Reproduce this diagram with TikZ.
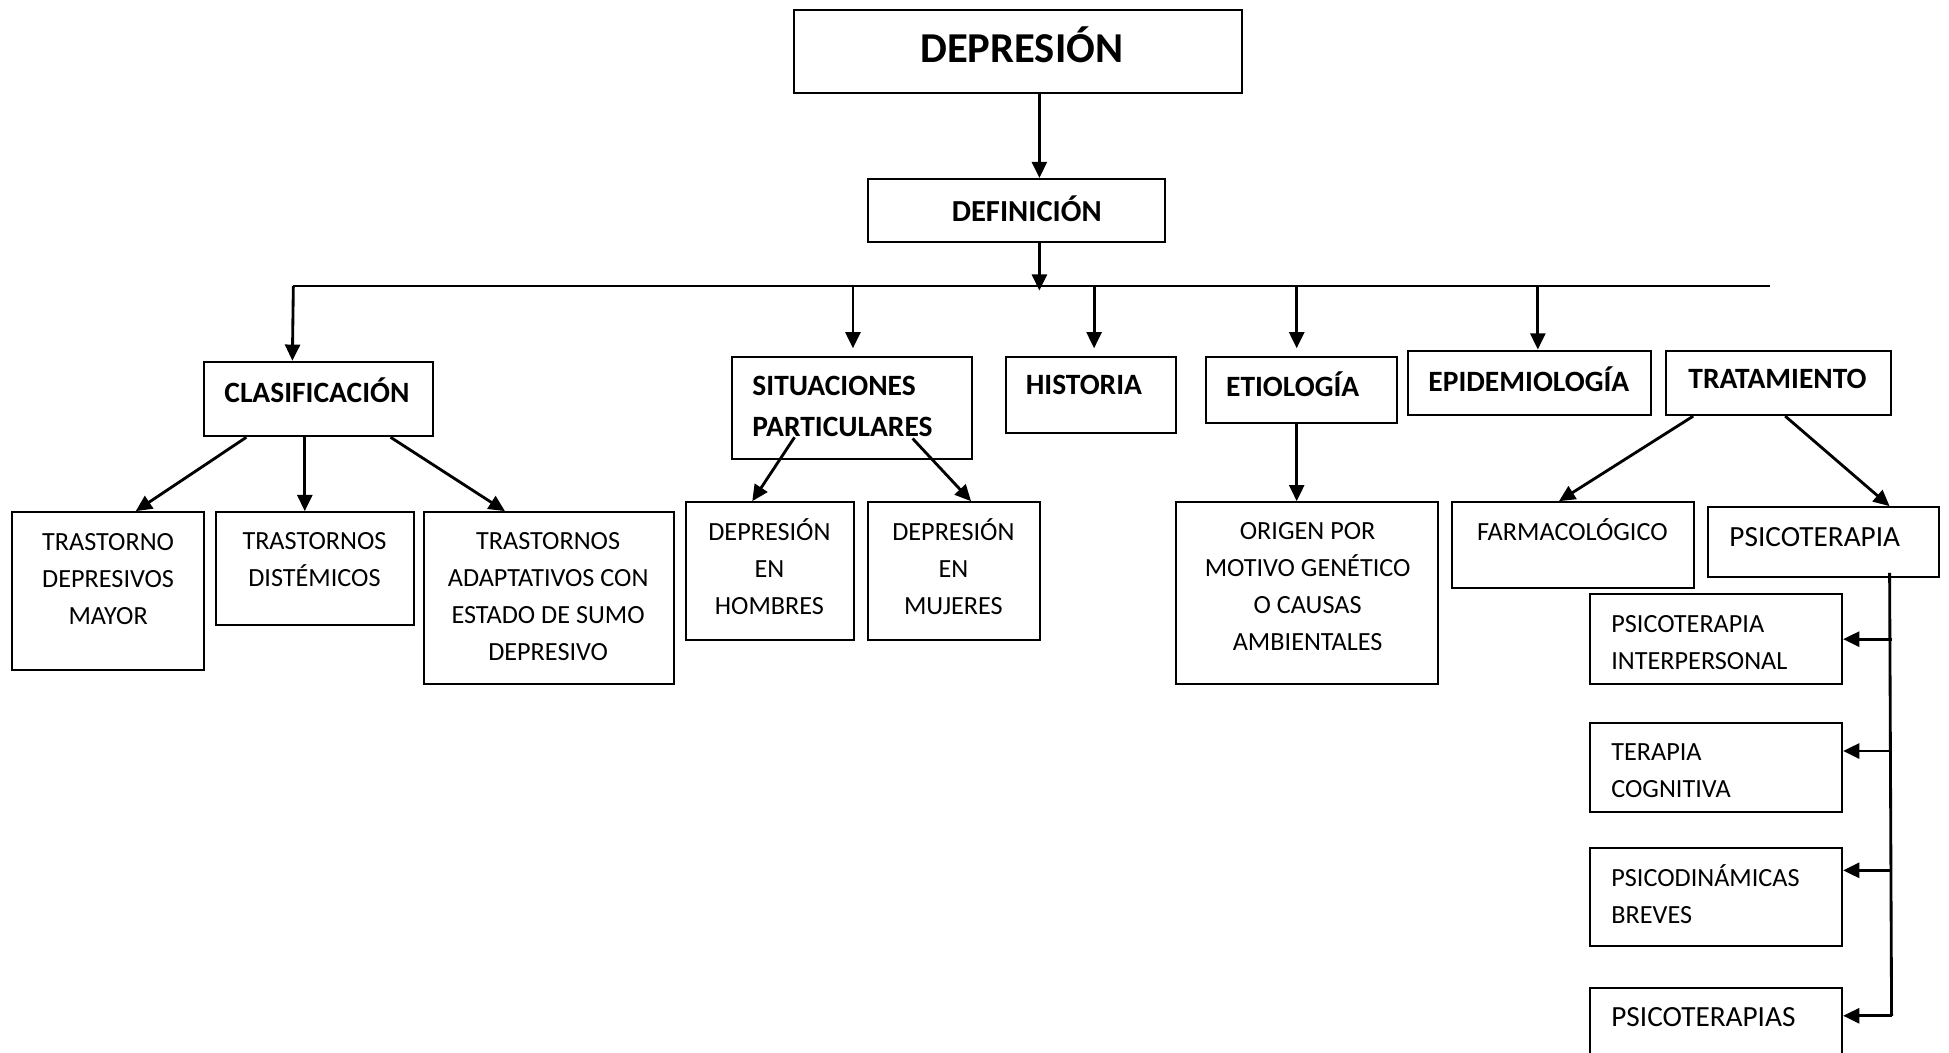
\documentclass[tikz,border=0pt]{standalone}
\usepackage{fontspec}
\setmainfont{Carlito}
\usepackage{tikz}
\usetikzlibrary{positioning, calc, fit, arrows.meta}

\tikzset{
	caja/.style={draw, line width=0.9pt, inner sep=0pt},
	flecha/.style={line width=1.3pt, -{Triangle[length=0.26cm, width=0.24cm]}},
	titulo/.style={font=\bfseries\fontsize{13.5}{19}\selectfont, inner sep=0pt, align=left},
	texto/.style={font=\fontsize{12}{17}\selectfont, inner sep=0pt, align=center},
}

\begin{document}
\begin{tikzpicture}[x=0.02cm, y=-0.02cm]
	\useasboundingbox (0,0) rectangle (1568,847);
	\clip (0,0) rectangle (1568,847);
	
	% cajas
	\node[caja, fit={(639,8) (999,75)}] (dep) {};
	\node[caja, fit={(698,144) (937,195)}] (def) {};
	\node[caja, fit={(164,291) (348,351)}] (clas) {};
	\node[caja, fit={(589,287) (782,369)}] (sit) {};
	\node[caja, fit={(809,287) (946,348)}] (hist) {};
	\node[caja, fit={(970,287) (1124,340)}] (etio) {};
	\node[caja, fit={(1133,282) (1328,334)}] (epid) {};
	\node[caja, fit={(1340,282) (1521,334)}] (trat) {};
	\node[caja, fit={(10,412) (164,539)}] (tdm) {};
	\node[caja, fit={(174,412) (333,503)}] (tdis) {};
	\node[caja, fit={(341,412) (542,550)}] (tadap) {};
	\node[caja, fit={(552,404) (687,515)}] (hom) {};
	\node[caja, fit={(698,404) (837,515)}] (muj) {};
	\node[caja, fit={(946,404) (1157,550)}] (orig) {};
	\node[caja, fit={(1168,404) (1363,473)}] (farm) {};
	\node[caja, fit={(1374,408) (1560,464)}] (psi) {};
	\node[caja, fit={(1279,478) (1482,550)}] (pint) {};
	\node[caja, fit={(1279,582) (1482,653)}] (tcog) {};
	\node[caja, fit={(1279,682) (1482,761)}] (pdin) {};
	\node[caja, fit={(1279,795) (1482,890)}] (pter) {};
	
	% textos
	\node[titulo, font=\bfseries\fontsize{19.5}{24}\selectfont] (tdep) at (822,36) {DEPRESIÓN};
	\node[titulo, font=\bfseries\fontsize{14}{18}\selectfont] (tdef) at (826,168) {DEFINICIÓN};
	\node[titulo] (tclas) at (255,314) {CLASIFICACIÓN};
	\node[titulo, anchor=west] (tsit) at (605,327) {SITUACIONES\\PARTICULARES};
	\node[titulo] (thist) at (872,310) {HISTORIA};
	\node[titulo] (tetio) at (1040,309) {ETIOLOGÍA};
	\node[titulo] (tepid) at (1230,305) {EPIDEMIOLOGÍA};
	\node[titulo] (ttrat) at (1430,305) {TRATAMIENTO};
	
	\node[texto] (ttdm) at (87,466) {TRASTORNO\\DEPRESIVOS\\MAYOR};
	\node[texto] (ttdis) at (253,450) {TRASTORNOS\\DISTÉMICOS};
	\node[texto] (ttadap) at (441,480) {TRASTORNOS\\ADAPTATIVOS CON\\ESTADO DE SUMO\\DEPRESIVO};
	\node[texto] (thom) at (619,456) {DEPRESIÓN\\EN\\HOMBRES};
	\node[texto] (tmuj) at (767,456) {DEPRESIÓN\\EN\\MUJERES};
	\node[texto] (torig) at (1052,472) {ORIGEN POR\\MOTIVO GENÉTICO\\O CAUSAS\\AMBIENTALES};
	\node[texto] (tfarm) at (1265,426) {FARMACOLÓGICO};
	\node[texto, anchor=west, font=\fontsize{13.4}{18}\selectfont] (tpsi) at (1391,432) {PSICOTERAPIA};
	\node[texto, anchor=west, align=left] (tpint) at (1296,517) {PSICOTERAPIA\\INTERPERSONAL};
	\node[texto, anchor=west, align=left] (ttcog) at (1296,620) {TERAPIA\\COGNITIVA};
	\node[texto, anchor=west, align=left] (tpdin) at (1296,719) {PSICODINÁMICAS\\BREVES};
	\node[texto, anchor=west, font=\fontsize{13.4}{18}\selectfont] (tpter) at (1296,818) {PSICOTERAPIAS};
	
	% flechas
	\draw[flecha] ($(dep.south west)+(198,0)$) -- ($(def.north west)+(139,0)$);
	\coordinate (bus) at ($(def.south west)+(139,35)$);
	\coordinate (bi) at (236,230);
	\coordinate (bd) at (1424,230);
	\draw[line width=1pt] (bi) -- (bd);
	\draw[flecha] ($(def.south west)+(139,0)$) -- ($(bus)+(0,3)$);
	\draw[flecha] (bi) -- ($(clas.north west)+(72,0)$);
	\foreach \n/\dx/\dy in {sit/98/57, hist/72/57, etio/74/57}
		\draw[flecha] ($(\n.north west)+(\dx,-\dy)$) -- ($(\n.north west)+(\dx,-6)$);
	\draw[flecha] ($(epid.north west)+(105,-52)$) -- ($(epid.north west)+(105,0)$);
	
	\draw[flecha] ($(clas.south west)+(35,0)$) -- ($(tdm.north west)+(100,0)$);
	\draw[flecha] ($(clas.south west)+(82,0)$) -- ($(tdis.north west)+(72,0)$);
	\draw[flecha] ($(clas.south west)+(151,0)$) -- ($(tadap.north west)+(66,0)$);
	\draw[flecha] ($(sit.south west)+(51,-18)$) -- ($(hom.north west)+(54,0)$);
	\draw[flecha] ($(sit.south west)+(146,-17)$) -- ($(muj.north west)+(84,0)$);
	\draw[flecha] ($(etio.south west)+(74,0)$) -- ($(orig.north west)+(98,0)$);
	\draw[flecha] ($(trat.south west)+(23,0)$) -- ($(farm.north west)+(87,0)$);
	\draw[flecha] ($(trat.south west)+(97,0)$) -- ($(psi.north west)+(147,0)$);
	
	\coordinate (tr) at ($(psi.south west)+(147,-4)$);
	\coordinate (trfin) at ($(pter.north east)+(39,23)$);
	\draw[line width=1.3pt] (tr) -- (trfin);
	\foreach \n/\dy in {pint/37, tcog/23, pdin/19, pter/23}
		\draw[flecha] ($(\n.north east)+(39,\dy)$) -- ($(\n.north east)+(0,\dy)$);
\end{tikzpicture}
\end{document}
